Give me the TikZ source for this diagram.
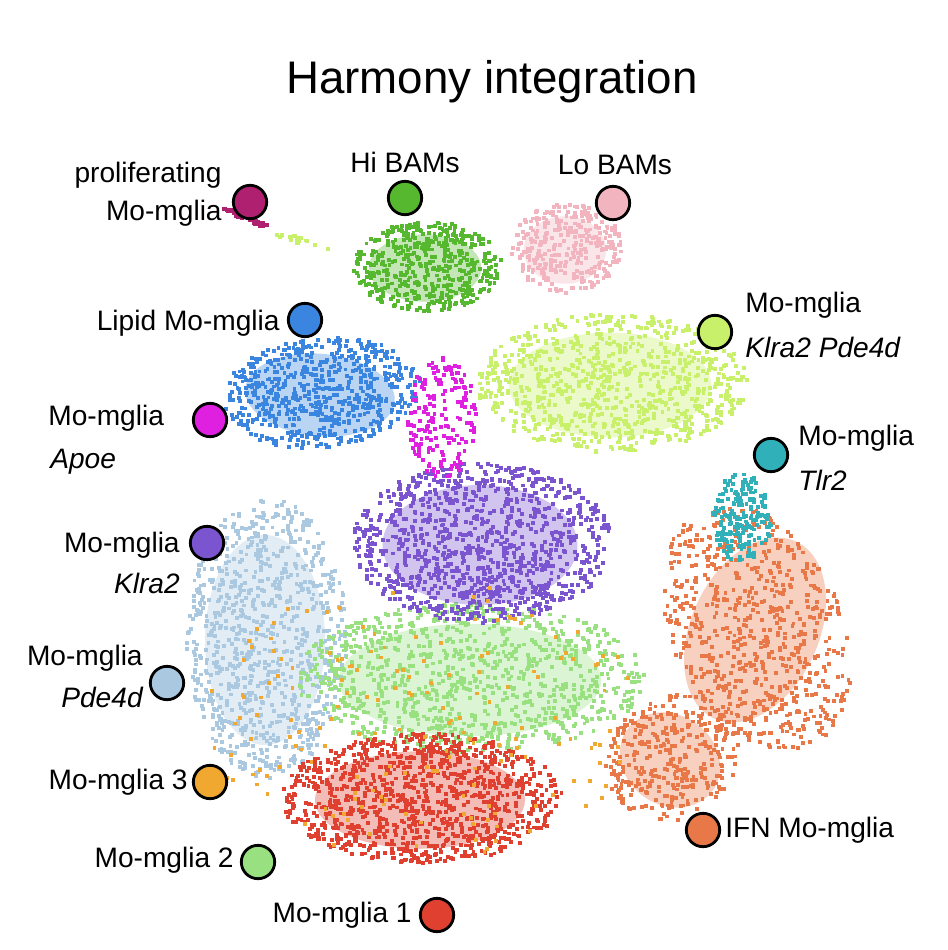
\documentclass[tikz,border=0pt]{standalone}
\usepackage{fontspec}
\setmainfont{Liberation Sans}
\definecolor{cHi}{HTML}{55B82E}
\definecolor{cLo}{HTML}{F2B5C0}
\definecolor{cLip}{HTML}{3A85E0}
\definecolor{cKP}{HTML}{C8F06A}
\definecolor{cApoe}{HTML}{E020E0}
\definecolor{cKl}{HTML}{7B55D0}
\definecolor{cTlr}{HTML}{30B0B8}
\definecolor{cPde}{HTML}{AAC8E0}
\definecolor{cTwo}{HTML}{98E080}
\definecolor{cOne}{HTML}{E04030}
\definecolor{cIFN}{HTML}{E87848}
\definecolor{cThree}{HTML}{F0A830}
\definecolor{cProl}{HTML}{B02070}
\newcommand\umapblob[8]{%
  \ifnum#8=1 \fill[#1,opacity=.35,rotate around={#7:(#2,#3)}] (#2,#3) ellipse ({#4*0.02cm*0.75} and {#5*0.02cm*0.75});\fi
  \foreach \i in {1,...,#6}{%
    \pgfmathsetmacro\aa{360*rnd}\pgfmathsetmacro\rr{sqrt(rnd)}%
    \pgfmathsetmacro\dx{#4*\rr*cos(\aa)}\pgfmathsetmacro\dy{#5*\rr*sin(\aa)}%
    \fill[#1] ({#2+\dx*cos(#7)-\dy*sin(#7)},{#3+\dx*sin(#7)+\dy*cos(#7)}) rectangle ++(2.2pt,2.2pt);}}
\tikzset{
  leg/.style={circle,draw=black,line width=1.6pt,minimum size=19pt,inner sep=0pt},
  lab/.style={font=\fontsize{16}{19}\selectfont,inner sep=0pt},
}
\begin{document}
\begin{tikzpicture}[x=0.02cm,y=-0.02cm]
\useasboundingbox (0,0) rectangle (947,950);
\pgfmathsetseed{7}
\node[font=\fontsize{26}{31}\selectfont] (title) at (492,82) {Harmony integration};
% clusters
\umapblob{cPde}{265}{640}{80}{140}{900}{0}{1}
\umapblob{cIFN}{755}{630}{85}{130}{700}{-25}{1}
\umapblob{cIFN}{670}{760}{70}{60}{350}{-35}{1}
\umapblob{cTwo}{470}{680}{175}{75}{1000}{0}{1}
\umapblob{cOne}{420}{800}{140}{65}{1100}{0}{1}
\umapblob{cKP}{610}{385}{135}{70}{900}{0}{1}
\umapblob{cLip}{320}{395}{100}{55}{650}{-5}{1}
\umapblob{cHi}{425}{268}{75}{45}{500}{0}{1}
\umapblob{cLo}{565}{250}{55}{45}{330}{0}{1}
\umapblob{cKl}{480}{545}{130}{80}{1100}{0}{1}
\umapblob{cApoe}{440}{420}{35}{60}{180}{0}{0}
\umapblob{cTlr}{740}{520}{30}{45}{200}{0}{0}
\umapblob{cThree}{420}{720}{220}{140}{180}{0}{0}
\umapblob{cProl}{245}{220}{25}{3}{60}{22}{0}
\umapblob{cKP}{300}{243}{30}{4}{20}{15}{0}
% legend
\node[leg,fill=cProl] (lp) at (250,202) {};
\node[leg,fill=cHi] (lhi) at (405,198) {};
\node[leg,fill=cLo] (llo) at (613,203) {};
\node[leg,fill=cLip] (llip) at (305,320) {};
\node[leg,fill=cKP] (lkp) at (715,332) {};
\node[leg,fill=cApoe] (lapoe) at (210,420) {};
\node[leg,fill=cTlr] (ltlr) at (771,455) {};
\node[leg,fill=cKl] (lkl) at (207,543) {};
\node[leg,fill=cPde] (lpde) at (167,683) {};
\node[leg,fill=cThree] (l3) at (210,782) {};
\node[leg,fill=cTwo] (l2) at (258,862) {};
\node[leg,fill=cOne] (l1) at (437,915) {};
\node[leg,fill=cIFN] (lifn) at (703,830) {};
% labels
\node[lab] (t1) at (148,175) {proliferating};
\node[lab,anchor=east] (t2) at (222,213) {Mo-mglia};
\node[lab] (t3) at (405,162) {Hi BAMs};
\node[lab] (t4) at (615,165) {Lo BAMs};
\node[lab,anchor=east] (t5) at (280,323) {Lipid Mo-mglia};
\node[lab,anchor=west] (t6) at (745,305) {Mo-mglia};
\node[lab,anchor=west] (t7) at (745,347) {\itshape Klra2 Pde4d};
\node[lab,anchor=west] (t8) at (48,418) {Mo-mglia};
\node[lab,anchor=west] (t9) at (50,462) {\itshape Apoe};
\node[lab,anchor=west] (t10) at (798,438) {Mo-mglia};
\node[lab,anchor=west] (t11) at (798,480) {\itshape Tlr2};
\node[lab,anchor=east] (t12) at (180,545) {Mo-mglia};
\node[lab,anchor=east] (t13) at (180,583) {\itshape Klra2};
\node[lab,anchor=east] (t14) at (143,658) {Mo-mglia};
\node[lab,anchor=east] (t15) at (143,697) {\itshape Pde4d};
\node[lab,anchor=east] (t16) at (188,782) {Mo-mglia 3};
\node[lab,anchor=east] (t17) at (234,860) {Mo-mglia 2};
\node[lab,anchor=east] (t18) at (412,915) {Mo-mglia 1};
\node[lab,anchor=west] (t19) at (725,830) {IFN Mo-mglia};
\end{tikzpicture}
\end{document}
